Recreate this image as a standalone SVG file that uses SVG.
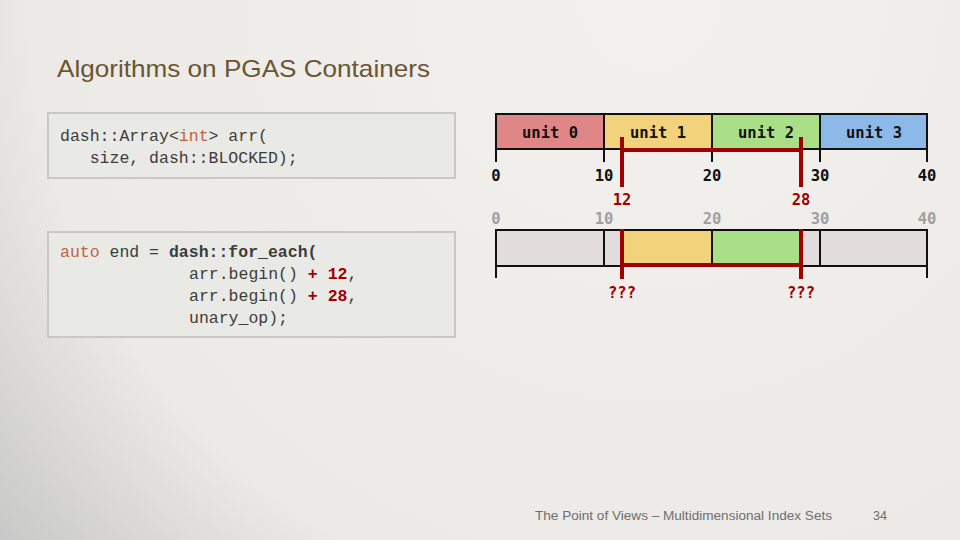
<svg xmlns="http://www.w3.org/2000/svg" width="960" height="540" viewBox="0 0 960 540">
<defs>
<radialGradient id="bg" gradientUnits="userSpaceOnUse" cx="650" cy="0" r="860">
<stop offset="0" stop-color="#f2f1ee"/>
<stop offset="0.72" stop-color="#ebeae7"/>
<stop offset="1" stop-color="#c6c6c6"/>
</radialGradient>
<style>
.code{font-family:"Liberation Mono","DejaVu Sans Mono",monospace;font-size:16.5px;fill:#3c3c3c}
.box{fill:#e9e9e5;stroke:#c8c8c4;stroke-width:2}
.kw{fill:#c0643f}
.b{font-weight:bold}
.red{fill:#a00000;font-weight:bold}
.lbl{font-family:"DejaVu Sans Mono","Liberation Mono",monospace;font-size:15.5px;font-weight:bold;text-anchor:middle}
.ax{fill:#111}
.ax2{fill:#a0a0a0}
.rl{fill:#a00000}
.cell{stroke:#111;stroke-width:2}
.tick{stroke:#111;stroke-width:2;fill:none}
.rline{stroke:#a00000;stroke-width:4;fill:none}
.foot{font-family:"Liberation Sans",Arial,sans-serif;font-size:12.5px;fill:#6e6e6e}
</style>
</defs>
<rect width="960" height="540" fill="url(#bg)"/>
<text x="57" y="77" font-family="'Liberation Sans',Arial,sans-serif" font-size="24" fill="#6b5532" textLength="373" lengthAdjust="spacingAndGlyphs">Algorithms on PGAS Containers</text>

<g id="code1">
<rect class="box" x="48" y="113" width="407" height="65"/>
<text class="code" x="60" y="141">dash::Array&lt;<tspan class="kw">int</tspan>&gt; arr(</text>
<text class="code" x="60" y="163" xml:space="preserve">   size, dash::BLOCKED);</text>
</g>

<g id="code2">
<rect class="box" x="48" y="232" width="407" height="105"/>
<text class="code" x="60" y="257"><tspan class="kw">auto</tspan> end = <tspan class="b">dash::for_each(</tspan></text>
<text class="code" x="189" y="279">arr.begin() <tspan class="red">+ 12</tspan>,</text>
<text class="code" x="189" y="301">arr.begin() <tspan class="red">+ 28</tspan>,</text>
<text class="code" x="189" y="323">unary_op);</text>
</g>

<g id="units">
<rect class="cell" x="496" y="114" width="108" height="35" fill="#df8686"/>
<rect class="cell" x="604" y="114" width="108" height="35" fill="#f2d27a"/>
<rect class="cell" x="712" y="114" width="108" height="35" fill="#a9df87"/>
<rect class="cell" x="820" y="114" width="107" height="35" fill="#8db9e9"/>
<text class="lbl ax" x="550" y="138">unit 0</text>
<text class="lbl ax" x="658" y="138">unit 1</text>
<text class="lbl ax" x="766" y="138">unit 2</text>
<text class="lbl ax" x="874" y="138">unit 3</text>
<path class="tick" d="M496 149V162M604 149V162M712 149V162M820 149V162M927 149V162"/>
<text class="lbl ax" x="496" y="181">0</text>
<text class="lbl ax" x="604" y="181">10</text>
<text class="lbl ax" x="712" y="181">20</text>
<text class="lbl ax" x="820" y="181">30</text>
<text class="lbl ax" x="927" y="181">40</text>
</g>

<g id="range">
<rect x="496" y="230" width="431" height="36" fill="#e3dcdc"/>
<rect x="622" y="230" width="90" height="36" fill="#f2d27a"/>
<rect x="712" y="230" width="89" height="36" fill="#a9df87"/>
<rect x="496" y="230" width="431" height="36" fill="none" stroke="#111" stroke-width="2"/>
<path class="tick" d="M604 230V266M712 230V266M820 230V266M496 266V278M927 266V278"/>
<text class="lbl ax2" x="496" y="224">0</text>
<text class="lbl ax2" x="604" y="224">10</text>
<text class="lbl ax2" x="712" y="224">20</text>
<text class="lbl ax2" x="820" y="224">30</text>
<text class="lbl ax2" x="927" y="224">40</text>
</g>

<g id="connectors">
<path class="rline" d="M622 137V187M801 137V187M622 150H801"/>
<path class="rline" d="M622 229V279M801 229V279M622 265H801"/>
</g>
<text class="lbl rl" x="622" y="205">12</text>
<text class="lbl rl" x="801" y="205">28</text>
<text class="lbl rl" x="622" y="298">???</text>
<text class="lbl rl" x="801" y="298">???</text>

<text class="foot" x="535" y="520" textLength="297" lengthAdjust="spacingAndGlyphs">The Point of Views – Multidimensional Index Sets</text>
<text class="foot" x="873" y="520">34</text>
</svg>
